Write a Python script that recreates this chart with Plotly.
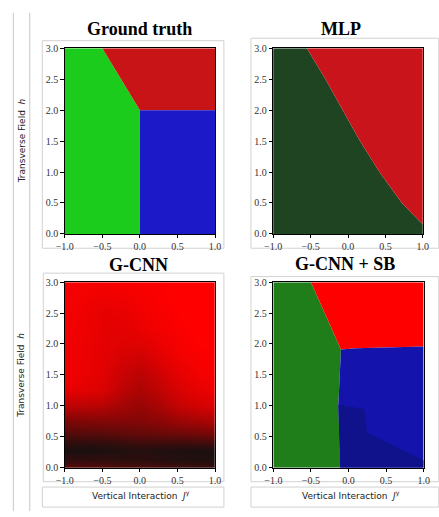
import plotly.graph_objects as go

W, H = 439, 517

# ---------------- data ----------------
# Ground truth phase regions (J^y, h) polygons
gt_green_x = [-1.0, 0.0, 0.0, -0.5, -1.0]
gt_green_h = [0.0, 0.0, 2.0, 3.0, 3.0]
gt_red_x = [-0.5, 1.0, 1.0, 0.0]
gt_red_h = [3.0, 3.0, 2.0, 2.0]
gt_blue_x = [0.0, 1.0, 1.0, 0.0]
gt_blue_h = [0.0, 0.0, 2.0, 2.0]

# MLP decision boundary (green | red)
mlp_bound_x = [1.0, 0.72, 0.42, 0.16, -0.07, -0.30, -0.55]
mlp_bound_h = [0.15, 0.5, 1.0, 1.5, 2.0, 2.5, 3.0]

# G-CNN red intensity grid
gcnn_x = [-1.0, -0.75, -0.5, -0.25, 0.0, 0.25, 0.5, 0.75, 1.0]
gcnn_h = [0.0, 0.12, 0.28, 0.4, 0.55, 0.75, 1.0, 1.25, 1.5, 1.75, 2.0, 2.25, 2.5, 2.75, 3.0]
gcnn_red = [
    [0.32, 0.30, 0.28, 0.25, 0.24, 0.22, 0.20, 0.18, 0.16],
    [0.12, 0.12, 0.12, 0.10, 0.10, 0.08, 0.06, 0.05, 0.04],
    [0.02, 0.02, 0.03, 0.05, 0.07, 0.05, 0.04, 0.03, 0.03],
    [0.10, 0.10, 0.11, 0.13, 0.16, 0.16, 0.16, 0.17, 0.18],
    [0.25, 0.26, 0.27, 0.30, 0.32, 0.34, 0.36, 0.38, 0.40],
    [0.44, 0.45, 0.46, 0.46, 0.46, 0.50, 0.56, 0.60, 0.64],
    [0.70, 0.70, 0.68, 0.60, 0.55, 0.62, 0.74, 0.80, 0.84],
    [0.90, 0.88, 0.84, 0.72, 0.64, 0.72, 0.83, 0.89, 0.93],
    [0.94, 0.91, 0.87, 0.77, 0.70, 0.78, 0.88, 0.94, 0.97],
    [0.94, 0.92, 0.88, 0.82, 0.78, 0.86, 0.93, 0.97, 0.99],
    [0.94, 0.92, 0.89, 0.86, 0.86, 0.91, 0.96, 0.99, 1.00],
    [0.95, 0.93, 0.89, 0.88, 0.91, 0.95, 0.98, 1.00, 1.00],
    [0.96, 0.93, 0.89, 0.90, 0.94, 0.97, 0.99, 1.00, 1.00],
    [0.96, 0.95, 0.93, 0.94, 0.96, 0.98, 1.00, 1.00, 1.00],
    [0.96, 0.96, 0.96, 0.97, 0.98, 0.99, 1.00, 1.00, 1.00],
]

# G-CNN + SB regions
sb_green_x = [-1.0, -0.11, -0.135, -0.10, -0.50, -1.0]
sb_green_h = [0.0, 0.0, 1.02, 1.91, 3.0, 3.0]
sb_red_x = [-0.50, 1.0, 1.0, 0.5, 0.1, -0.10]
sb_red_h = [3.0, 3.0, 1.96, 1.95, 1.93, 1.91]
sb_blue_x = [-0.11, 1.0, 1.0, 0.5, 0.1, -0.10, -0.135]
sb_blue_h = [0.0, 0.0, 1.96, 1.95, 1.93, 1.91, 1.02]
sb_dark_x = [-0.11, 1.0, 1.0, 0.25, 0.21, -0.135]
sb_dark_h = [0.0, 0.0, 0.12, 0.57, 0.95, 1.02]

tick_x = [-1.0, -0.5, 0.0, 0.5, 1.0]
tick_h = [0.0, 0.5, 1.0, 1.5, 2.0, 2.5, 3.0]

titles = ["Ground truth", "MLP", "G-CNN", "G-CNN + SB"]
ylabel = "Transverse Field  <i>h</i>"
xlabel = "Vertical Interaction  <i>J</i><sup>y</sup>"

# ---------------- helpers ----------------
def px_x(a):
    return a / W

def px_y(b):
    return 1 - b / H

def poly(x, h, color, ax):
    return go.Scatter(x=x, y=h, fill="toself", fillcolor=color, mode="lines",
                      line=dict(width=0, color=color), hoverinfo="skip",
                      showlegend=False, xaxis="x" + ax, yaxis="y" + ax)

fig = go.Figure()

# Ground truth
fig.add_trace(poly(gt_green_x, gt_green_h, "rgb(28,204,28)", ""))
fig.add_trace(poly(gt_red_x, gt_red_h, "rgb(200,20,22)", ""))
fig.add_trace(poly(gt_blue_x, gt_blue_h, "rgb(28,26,200)", ""))

# MLP
mlp_green_x = [-1.0, 1.0] + mlp_bound_x + [-1.0]
mlp_green_h = [0.0, 0.0] + mlp_bound_h + [3.0]
mlp_red_x = mlp_bound_x + [1.0]
mlp_red_h = mlp_bound_h + [3.0]
fig.add_trace(poly(mlp_green_x, mlp_green_h, "rgb(31,68,33)", "2"))
fig.add_trace(poly(mlp_red_x, mlp_red_h, "rgb(202,20,28)", "2"))

# G-CNN
fig.add_trace(go.Heatmap(x=gcnn_x, y=gcnn_h, z=gcnn_red, zmin=0, zmax=1,
                         zsmooth="best", showscale=False, hoverinfo="skip",
                         colorscale=[[0, "rgb(22,16,16)"], [0.5, "rgb(140,6,6)"], [1, "rgb(255,0,0)"]],
                         xaxis="x3", yaxis="y3"))

# G-CNN + SB
fig.add_trace(poly(sb_green_x, sb_green_h, "rgb(32,126,26)", "4"))
fig.add_trace(poly(sb_red_x, sb_red_h, "rgb(255,0,0)", "4"))
fig.add_trace(poly(sb_blue_x, sb_blue_h, "rgb(20,20,172)", "4"))
fig.add_trace(poly(sb_dark_x, sb_dark_h, "rgb(16,18,140)", "4"))

# ---------------- axes ----------------
tickfont = dict(family="Liberation Serif", size=10, color="#333")

def xax(x0, x1, anchor):
    return dict(domain=[px_x(x0), px_x(x1)], range=[-1, 1], anchor=anchor,
                tickvals=tick_x, tickformat=".1f", ticks="outside", ticklen=3.5,
                tickwidth=0.8, tickcolor="black", showline=True, linecolor="black",
                linewidth=1, mirror=True, showgrid=False, zeroline=False,
                tickfont=tickfont, fixedrange=True)

def yax(t, b, anchor):
    return dict(domain=[px_y(b), px_y(t)], range=[0, 3], anchor=anchor,
                tickvals=tick_h, tickformat=".1f", ticks="outside", ticklen=3.5,
                tickwidth=0.8, tickcolor="black", showline=True, linecolor="black",
                linewidth=1, mirror=True, showgrid=False, zeroline=False,
                tickfont=tickfont, fixedrange=True)

shapes = []
def box(x0, y0, x1, y1):
    shapes.append(dict(type="rect", xref="paper", yref="paper",
                       x0=px_x(x0), x1=px_x(x1), y0=px_y(y1), y1=px_y(y0),
                       line=dict(color="#d2d2d2", width=1), fillcolor="rgba(0,0,0,0)",
                       layer="below"))

def vline(x, y0, y1):
    shapes.append(dict(type="line", xref="paper", yref="paper",
                       x0=px_x(x), x1=px_x(x), y0=px_y(y1), y1=px_y(y0),
                       line=dict(color="#c8c8c8", width=1)))

box(34.5, 35.5, 222.5, 248)
box(250.5, 33, 445, 248)
box(35.5, 273.5, 222.5, 487)
box(250.5, 277, 445, 487)
box(34.5, 492.5, 222.5, 513)
box(250.5, 492.5, 445, 513)
vline(4.5, 7, 517)
vline(21.5, 7, 517)

title_font = dict(family="Liberation Serif", size=18, color="black")
label_font = dict(family="DejaVu Sans", size=9, color="#222")
annotations = []
for txt, cx, cy in zip(titles, [135, 344, 134, 348], [24, 24, 265, 264]):
    annotations.append(dict(text="<b>" + txt + "</b>", x=px_x(cx), y=px_y(cy),
                            xref="paper", yref="paper", showarrow=False,
                            xanchor="center", yanchor="middle", font=title_font))
for cy in [138, 378]:
    annotations.append(dict(text=ylabel, x=px_x(13), y=px_y(cy), xref="paper", yref="paper",
                            showarrow=False, textangle=-90, xanchor="center",
                            yanchor="middle", font=label_font))
for cx in [137, 354]:
    annotations.append(dict(text=xlabel, x=px_x(cx), y=px_y(501), xref="paper", yref="paper",
                            showarrow=False, xanchor="center", yanchor="middle",
                            font=label_font))

fig.update_layout(
    width=W, height=H, margin=dict(l=0, r=0, t=0, b=0), autosize=False,
    paper_bgcolor="white", plot_bgcolor="white", showlegend=False,
    xaxis=xax(57.7, 213.3, "y"), yaxis=yax(43.3, 233.3, "x"),
    xaxis2=xax(273.5, 428.5, "y2"), yaxis2=yax(43.3, 233.3, "x2"),
    xaxis3=xax(57.7, 213.3, "y3"), yaxis3=yax(282.7, 472.7, "x3"),
    xaxis4=xax(273.7, 429.3, "y4"), yaxis4=yax(282.7, 472.7, "x4"),
    shapes=shapes, annotations=annotations,
)

post = ("document.body.style.margin='0px';document.body.style.padding='0px';"
        "document.documentElement.style.margin='0px';"
        "document.body.style.overflow='hidden';document.documentElement.style.overflow='hidden';")
fig.write_html("out.html", config={"displayModeBar": False}, post_script=post)
